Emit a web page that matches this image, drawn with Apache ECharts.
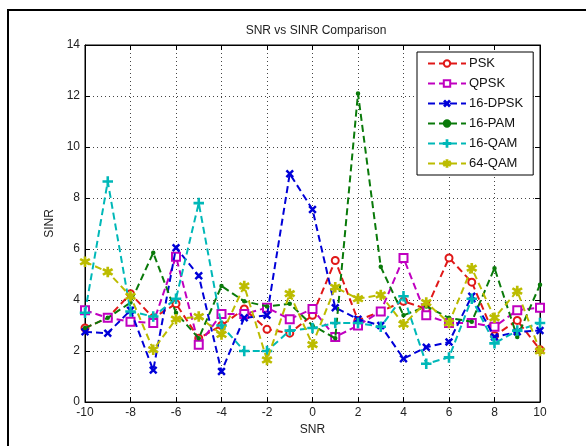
<!DOCTYPE html>
<html>
<head>
<meta charset="utf-8">
<script src="https://cdn.jsdelivr.net/npm/echarts@6/dist/echarts.min.js"></script>
<style>
  html, body { margin: 0; padding: 0; background: #fff; }
  #chart { width: 586px; height: 446px; }
</style>
</head>
<body>
<div id="chart"></div>
<script>
// SNR sweep (x axis)
const snr = [-10, -9, -8, -7, -6, -5, -4, -3, -2, -1, 0, 1, 2, 3, 4, 5, 6, 7, 8, 9, 10];

// SINR per modulation scheme
const psk    = [2.9, 3.3, 4.25, 3.3, 3.85, 2.5, 3.0, 3.65, 2.85, 2.7, 3.4, 5.55, 3.2, 3.55, 3.95, 3.65, 5.65, 4.7, 2.6, 3.2, 2.05];
const qpsk   = [3.6, 3.3, 3.15, 3.1, 5.7, 2.25, 3.45, 3.45, 3.7, 3.25, 3.65, 2.55, 3.0, 3.55, 5.65, 3.4, 3.1, 3.1, 2.95, 3.6, 3.7];
const dpsk16 = [2.75, 2.7, 3.6, 1.25, 6.05, 4.95, 1.2, 3.3, 3.4, 8.95, 7.55, 3.7, 3.25, 3.0, 1.7, 2.15, 2.35, 4.15, 2.55, 2.75, 2.8];
const pam16  = [2.9, 3.3, 3.9, 5.85, 3.5, 2.5, 4.55, 3.95, 3.75, 3.85, 3.0, 2.5, 12.1, 5.3, 3.4, 3.75, 3.3, 3.15, 5.25, 2.55, 4.6];
const qam16  = [3.5, 8.65, 3.55, 3.35, 4.05, 7.8, 3.0, 2.0, 2.0, 2.8, 2.9, 3.1, 3.1, 2.95, 4.15, 1.5, 1.75, 4.05, 2.3, 2.8, 3.1];
const qam64  = [5.5, 5.1, 4.15, 2.05, 3.25, 3.35, 2.65, 4.55, 1.65, 4.25, 2.25, 4.5, 4.05, 4.2, 3.05, 3.9, 3.1, 5.25, 3.3, 4.35, 2.0];

const seriesNames = ['PSK', 'QPSK', '16-DPSK', '16-PAM', '16-QAM', '64-QAM'];
const xTicks = [-10, -8, -6, -4, -2, 0, 2, 4, 6, 8, 10];
const yTicks = [0, 2, 4, 6, 8, 10, 12, 14];

// Marker shapes
const plusPath = 'path://M-0.6,-5L0.6,-5L0.6,-0.6L5,-0.6L5,0.6L0.6,0.6L0.6,5L-0.6,5L-0.6,0.6L-5,0.6L-5,-0.6L-0.6,-0.6Z';
const starPath = 'path://M-0.6,-5L0.6,-5L0.6,-1.3L3.9,-3.2L4.5,-2.2L1.2,0L4.5,2.2L3.9,3.2L0.6,1.3L0.6,5L-0.6,5L-0.6,1.3L-3.9,3.2L-4.5,2.2L-1.2,0L-4.5,-2.2L-3.9,-3.2L-0.6,-1.3Z';

const styles = [
  { color: '#e01818', symbol: 'emptyCircle', size: 7 },
  { color: '#c000c0', symbol: 'emptyRect', size: 8 },
  { color: '#0000d8', symbol: plusPath, size: 8, rotate: 45 },
  { color: '#0a7a0a', symbol: 'circle', size: 3 },
  { color: '#00b8b8', symbol: plusPath, size: 9 },
  { color: '#bcbc00', symbol: starPath, size: 9 }
];

const values = [psk, qpsk, dpsk16, pam16, qam16, qam64];

const series = values.map((vals, i) => ({
  name: seriesNames[i],
  type: 'line',
  data: vals.map((v, k) => [snr[k], v]),
  symbol: styles[i].symbol,
  symbolSize: styles[i].size,
  symbolRotate: styles[i].rotate || 0,
  showAllSymbol: true,
  animation: false,
  lineStyle: { color: styles[i].color, width: 2, type: [7, 4] },
  itemStyle: { color: styles[i].color, borderColor: styles[i].color, borderWidth: 1.5 },
  emphasis: { disabled: true },
  z: 3 + i
}));

const chart = echarts.init(document.getElementById('chart'), null, { renderer: 'canvas' });

const axisFont = { color: '#222', fontSize: 12, fontFamily: 'Liberation Sans, Arial, sans-serif' };
const gridLine = { show: true, lineStyle: { color: '#444', type: [1, 3], width: 1 } };
const frameLine = { show: true, onZero: false, lineStyle: { color: '#000' } };
const inTicks = { show: true, inside: true, length: 5, lineStyle: { color: '#000' } };

chart.setOption({
  backgroundColor: '#fff',
  animation: false,
  title: {
    text: 'SNR vs SINR Comparison',
    left: 311, top: 20, textAlign: 'center',
    textStyle: { fontSize: 12, fontWeight: 'normal', color: '#222', fontFamily: 'Liberation Sans, Arial, sans-serif' }
  },
  graphic: [
    { type: 'rect', shape: { x: 8, y: 10, width: 600, height: 460 }, style: { fill: null, stroke: '#000', lineWidth: 2 }, z: 0 }
  ],
  grid: { left: 85, right: 46, top: 45, bottom: 44, show: true, borderColor: '#000', borderWidth: 1, backgroundColor: '#fff' },
  legend: {
    orient: 'vertical',
    left: 417, top: 52,
    padding: [5, 10, 5, 10],
    backgroundColor: '#fff',
    borderColor: '#000', borderWidth: 1,
    itemWidth: 38, itemHeight: 8, itemGap: 7,
    textStyle: { fontSize: 13, color: '#111', fontFamily: 'Liberation Sans, Arial, sans-serif', padding: [0, 0, 0, -2] },
    data: seriesNames,
    z: 20
  },
  xAxis: [{
    type: 'value', min: -10, max: 10, interval: 2,
    name: 'SNR', nameLocation: 'middle', nameGap: 22,
    nameTextStyle: Object.assign({}, axisFont, { fontSize: 12 }),
    axisLine: frameLine,
    axisTick: inTicks,
    axisLabel: Object.assign({ margin: 5, formatter: v => xTicks.includes(v) ? String(v) : '' }, axisFont),
    splitLine: gridLine
  }, {
    type: 'value', min: -10, max: 10, interval: 2, position: 'top',
    axisLine: frameLine,
    axisTick: inTicks,
    axisLabel: { show: false }, splitLine: { show: false }
  }],
  yAxis: [{
    type: 'value', min: 0, max: 14, interval: 2, position: 'left',
    name: 'SINR', nameLocation: 'middle', nameGap: 26,
    nameTextStyle: Object.assign({}, axisFont, { fontSize: 12 }),
    axisLine: frameLine,
    axisTick: inTicks,
    axisLabel: Object.assign({ margin: 5, formatter: v => yTicks.includes(v) ? String(v) : '' }, axisFont),
    splitLine: gridLine
  }, {
    type: 'value', min: 0, max: 14, interval: 2, position: 'right',
    axisLine: frameLine,
    axisTick: inTicks,
    axisLabel: { show: false }, splitLine: { show: false }
  }],
  series: series
});
</script>
</body>
</html>
